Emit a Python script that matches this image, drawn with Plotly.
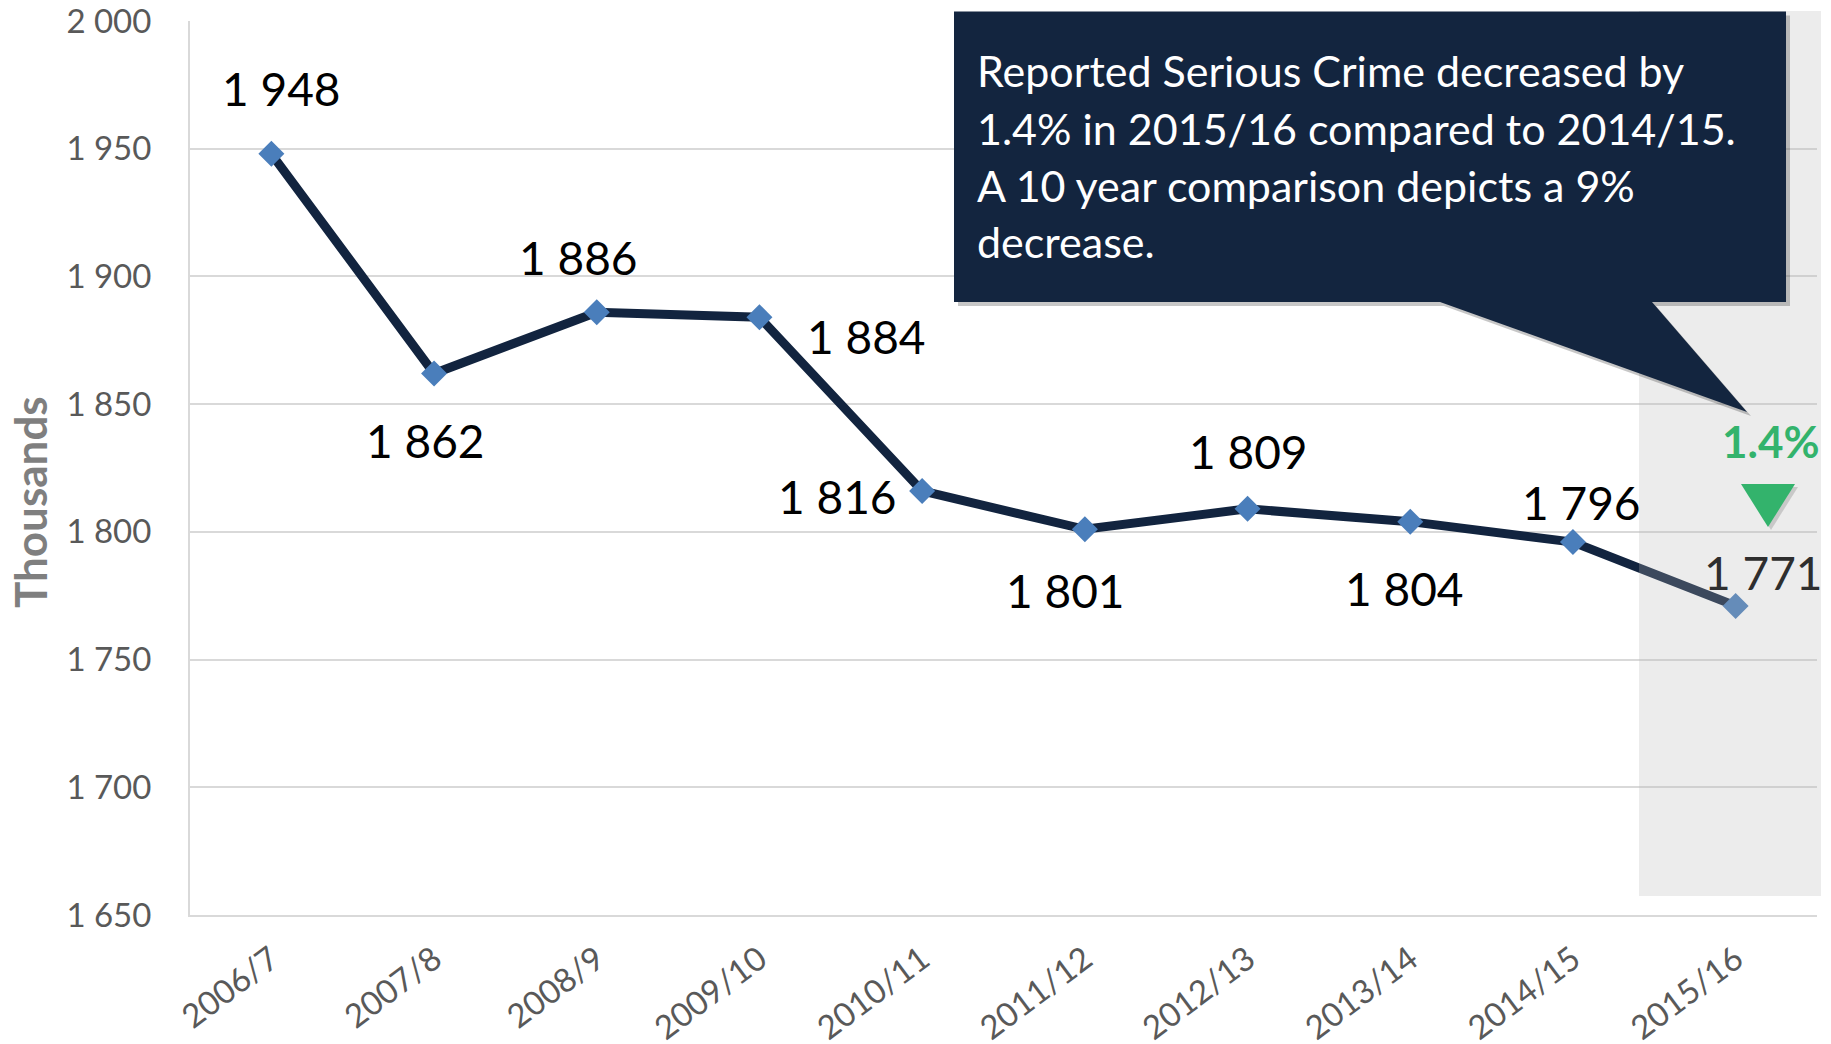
import plotly.graph_objects as go

categories = ["2006/7", "2007/8", "2008/9", "2009/10", "2010/11",
              "2011/12", "2012/13", "2013/14", "2014/15", "2015/16"]
values = [1948, 1862, 1886, 1884, 1816, 1801, 1809, 1804, 1796, 1771]
y_ticks = [1650, 1700, 1750, 1800, 1850, 1900, 1950, 2000]
callout_lines = ["Reported Serious Crime decreased by",
                 "1.4% in 2015/16 compared to 2014/15.",
                 "A 10 year comparison depicts a 9%",
                 "decrease."]
change_label = "1.4%"

# label offsets (pixels) relative to each point
label_dx = [10, -9, -18, 107, -85, -19, 1, -6, 9, 28]
label_dy = [65, -67, 55, -19, -6, -61, 57, -67, 40, 33]

OFF = 8  # default page body margin
W, H = 1831 - OFF, 1044 - OFF
PLOT_L, PLOT_R, PLOT_T, PLOT_B = 190, 1817, 21, 915  # in window pixels
ML = PLOT_L - OFF
MT = PLOT_T - OFF
MR = W - (PLOT_R - OFF)
MB = H - (PLOT_B - OFF)
PW, PH = PLOT_R - PLOT_L, PLOT_B - PLOT_T

def xp(px):
    return (px - PLOT_L) / PW

def yp(py):
    return (PLOT_B - py) / PH

FONT = "Lato"
NAVY = "#12243f"

fig = go.Figure()
fig.add_trace(go.Scatter(
    x=categories, y=values, mode="lines+markers",
    line=dict(color=NAVY, width=9),
    marker=dict(symbol="diamond", size=20, color="#4a7ebb"),
    hoverinfo="skip", showlegend=False,
))

def fmt(v):
    return f"{v:,}".replace(",", " ")

annotations = []
for i, (c, v) in enumerate(zip(categories, values)):
    annotations.append(dict(
        x=c, y=v, xref="x", yref="y", text=fmt(v), showarrow=False,
        xanchor="center", yanchor="middle",
        xshift=label_dx[i], yshift=label_dy[i],
        font=dict(family=FONT, size=46,
                  color="#2e2e2e" if i == len(values) - 1 else "#000000"),
    ))

# y-axis title
annotations.append(dict(
    x=xp(30), y=yp(502), xref="paper", yref="paper", text="<b>Thousands</b>",
    textangle=-90, showarrow=False, xanchor="center", yanchor="middle",
    font=dict(family=FONT, size=44, color="#7f7f7f"),
))

# callout text
base_y = 71
for k, line in enumerate(callout_lines):
    annotations.append(dict(
        x=xp(975), y=yp(base_y + 57 * k), xref="paper", yref="paper",
        text=line, showarrow=False, xanchor="left", yanchor="middle",
        font=dict(family=FONT, size=43, color="#ffffff"),
    ))

# 1.4% label
annotations.append(dict(
    x=xp(1771), y=yp(441), xref="paper", yref="paper", text=f"<b>{change_label}</b>",
    showarrow=False, xanchor="center", yanchor="middle",
    font=dict(family=FONT, size=44, color="#33b36c"),
))

def path(points):
    s = "M " + " L ".join(f"{xp(a):.5f},{yp(b):.5f}" for a, b in points) + " Z"
    return s

callout_pts = [(954, 11.5), (1786, 11.5), (1786, 302), (1652, 302),
               (1747, 412), (1440, 302), (954, 302)]
shadow_pts = [(a + 4, b + 4) for a, b in callout_pts]
tri_pts = [(1741, 484), (1795, 484), (1768, 527)]
tri_shadow = [(a + 3, b + 3) for a, b in tri_pts]

shapes = [
    # shaded overlay for latest year
    dict(type="rect", xref="paper", yref="paper", layer="above",
         x0=xp(1639), x1=xp(1821), y0=yp(896), y1=yp(11),
         fillcolor="rgba(180,180,180,0.26)", line=dict(width=0)),
    dict(type="path", xref="paper", yref="paper", layer="above",
         path=path(shadow_pts), fillcolor="rgba(0,0,0,0.22)", line=dict(width=0)),
    dict(type="path", xref="paper", yref="paper", layer="above",
         path=path(callout_pts), fillcolor="#13253f", line=dict(width=0)),
    dict(type="path", xref="paper", yref="paper", layer="above",
         path=path(tri_shadow), fillcolor="rgba(0,0,0,0.15)", line=dict(width=0)),
    dict(type="path", xref="paper", yref="paper", layer="above",
         path=path(tri_pts), fillcolor="#33b36c", line=dict(width=0)),
]

fig.update_layout(
    width=W, height=H,
    margin=dict(l=ML, r=MR, t=MT, b=MB, autoexpand=False),
    paper_bgcolor="white", plot_bgcolor="white",
    separators=". ",
    font=dict(family=FONT),
    annotations=annotations,
    shapes=shapes,
    xaxis=dict(
        type="category", range=[-0.5, len(categories) - 0.5],
        showgrid=False, showline=True, linecolor="#d9d9d9", linewidth=2,
        ticks="", tickangle=-37, ticklabelstandoff=10,
        ticklabeloverflow="allow",
        tickfont=dict(family=FONT, size=33, color="#595959"),
    ),
    yaxis=dict(
        range=[1650, 2000], tickvals=y_ticks,
        ticktext=[fmt(t) for t in y_ticks],
        showgrid=True, gridcolor="#d9d9d9", gridwidth=2,
        showline=True, linecolor="#d9d9d9", linewidth=2,
        zeroline=False, ticks="", ticklabelstandoff=30,
        ticklabeloverflow="allow",
        tickfont=dict(family=FONT, size=33, color="#595959"),
    ),
)

fig.write_html("out.html")
